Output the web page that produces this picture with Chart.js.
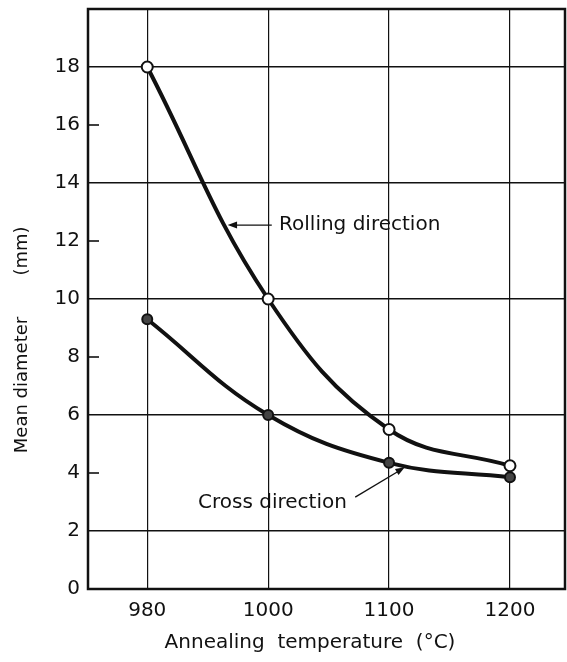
<!DOCTYPE html>
<html>
<head>
<meta charset="utf-8">
<script src="https://cdn.jsdelivr.net/npm/chart.js@4.4.0/dist/chart.umd.min.js"></script>
<style>
html, body { margin: 0; padding: 0; background: #fff; }
</style>
</head>
<body>
<canvas id="grafico" width="567" height="662"></canvas>
<script>
// data
const temperatures = ['980', '1000', '1100', '1200'];
const rollingDirection = [18.0, 10.0, 5.5, 4.25];
const crossDirection = [9.3, 6.0, 4.35, 3.85];
const yTickValues = [0, 2, 4, 6, 8, 10, 12, 14, 16, 18];
const yGridValues = [2, 6, 10, 14, 18];
const yShortTicks = [4, 8, 12, 16];

const FONT = '"DejaVu Sans", sans-serif';
const INK = '#111';

function toPoints(values) {
	return values.map((v, i) => ({ x: i, y: v }));
}

function arrowHead(ctx, x1, y1, x2, y2, size) {
	const a = Math.atan2(y2 - y1, x2 - x1);
	ctx.beginPath();
	ctx.moveTo(x2, y2);
	ctx.lineTo(x2 - size * Math.cos(a - 0.35), y2 - size * Math.sin(a - 0.35));
	ctx.lineTo(x2 - size * Math.cos(a + 0.35), y2 - size * Math.sin(a + 0.35));
	ctx.closePath();
	ctx.fill();
}

// frame, short inner ticks, labels and the axis titles
const extras = {
	id: 'extras',
	afterDraw(chart) {
		const ctx = chart.ctx;
		const area = chart.chartArea;
		const xs = chart.scales.x;
		const ys = chart.scales.y;
		ctx.save();
		ctx.strokeStyle = INK;
		ctx.fillStyle = INK;

		ctx.lineWidth = 2.5;
		ctx.strokeRect(area.left, area.top, area.right - area.left, area.bottom - area.top);

		ctx.lineWidth = 1.6;
		yShortTicks.forEach(v => {
			const py = ys.getPixelForValue(v);
			ctx.beginPath();
			ctx.moveTo(area.left, py);
			ctx.lineTo(area.left + 11, py);
			ctx.stroke();
		});

		ctx.font = '20px ' + FONT;
		ctx.textBaseline = 'middle';
		ctx.textAlign = 'left';

		// Rolling direction
		const rx = xs.getPixelForValue(1.09);
		const ry = ys.getPixelForValue(12.55);
		ctx.fillText('Rolling direction', rx, ry);
		const ax1 = xs.getPixelForValue(1.03), ax2 = xs.getPixelForValue(0.665);
		ctx.lineWidth = 1.3;
		ctx.beginPath();
		ctx.moveTo(ax1, ry);
		ctx.lineTo(ax2 + 4, ry);
		ctx.stroke();
		arrowHead(ctx, ax1, ry, ax2, ry, 10);

		// Cross direction
		const cx = xs.getPixelForValue(0.42);
		const cy = ys.getPixelForValue(2.97);
		ctx.fillText('Cross direction', cx, cy);
		const lx1 = xs.getPixelForValue(1.72), ly1 = ys.getPixelForValue(3.17);
		const lx2 = xs.getPixelForValue(2.13), ly2 = ys.getPixelForValue(4.2);
		ctx.beginPath();
		ctx.moveTo(lx1, ly1);
		ctx.lineTo(lx2 - 3, ly2 + 2);
		ctx.stroke();
		arrowHead(ctx, lx1, ly1, lx2, ly2, 10);

		// x axis title
		ctx.textAlign = 'center';
		ctx.fillText('Annealing  temperature  (°C)', 310, 643);

		// y axis title
		ctx.font = '18px ' + FONT;
		ctx.translate(22, 0);
		ctx.rotate(-Math.PI / 2);
		ctx.fillText('Mean diameter', -385, 0);
		ctx.fillText('(mm)', -251, 0);
		ctx.restore();
	}
};

const ctx = document.getElementById('grafico').getContext('2d');
let myChart = new Chart(ctx, {
	type: 'line',
	data: {
		datasets: [{
			label: 'Rolling direction',
			data: toPoints(rollingDirection),
			borderColor: INK,
			borderWidth: 4,
			tension: 0.4,
			pointRadius: 5.5,
			pointBorderWidth: 2,
			pointBorderColor: INK,
			pointBackgroundColor: '#fff'
		}, {
			label: 'Cross direction',
			data: toPoints(crossDirection),
			borderColor: INK,
			borderWidth: 4,
			tension: 0.4,
			pointRadius: 5,
			pointBorderWidth: 2,
			pointBorderColor: INK,
			pointBackgroundColor: '#444'
		}]
	},
	options: {
		responsive: false,
		animation: false,
		layout: { autoPadding: false, padding: { top: 9, right: 2, left: 0, bottom: 0 } },
		plugins: {
			legend: { display: false },
			tooltip: { enabled: false }
		},
		scales: {
			x: {
				type: 'linear',
				min: -0.49,
				max: 3.455,
				afterBuildTicks: s => { s.ticks = temperatures.map((t, i) => ({ value: i })); },
				afterFit: s => {
					s.height = 73;
					s.paddingLeft = 0;
					s.paddingRight = 0;
				},
				ticks: {
					padding: 10,
					autoSkip: false,
					maxRotation: 0,
					color: INK,
					font: { family: FONT, size: 20 },
					callback: v => temperatures[v]
				},
				grid: { drawTicks: false, color: INK, lineWidth: 1.2 },
				border: { display: false }
			},
			y: {
				min: 0,
				max: 20,
				afterBuildTicks: s => { s.ticks = yTickValues.map(v => ({ value: v })); },
				afterFit: s => {
					s.width = 88;
					s.paddingTop = 0;
					s.paddingBottom = 0;
				},
				ticks: {
					padding: 8,
					color: INK,
					font: { family: FONT, size: 20 }
				},
				grid: {
					drawTicks: false,
					lineWidth: 1.6,
					color: c => yGridValues.includes(c.tick.value) ? INK : 'rgba(0,0,0,0)'
				},
				border: { display: false }
			}
		}
	},
	plugins: [extras]
});
</script>
</body>
</html>
